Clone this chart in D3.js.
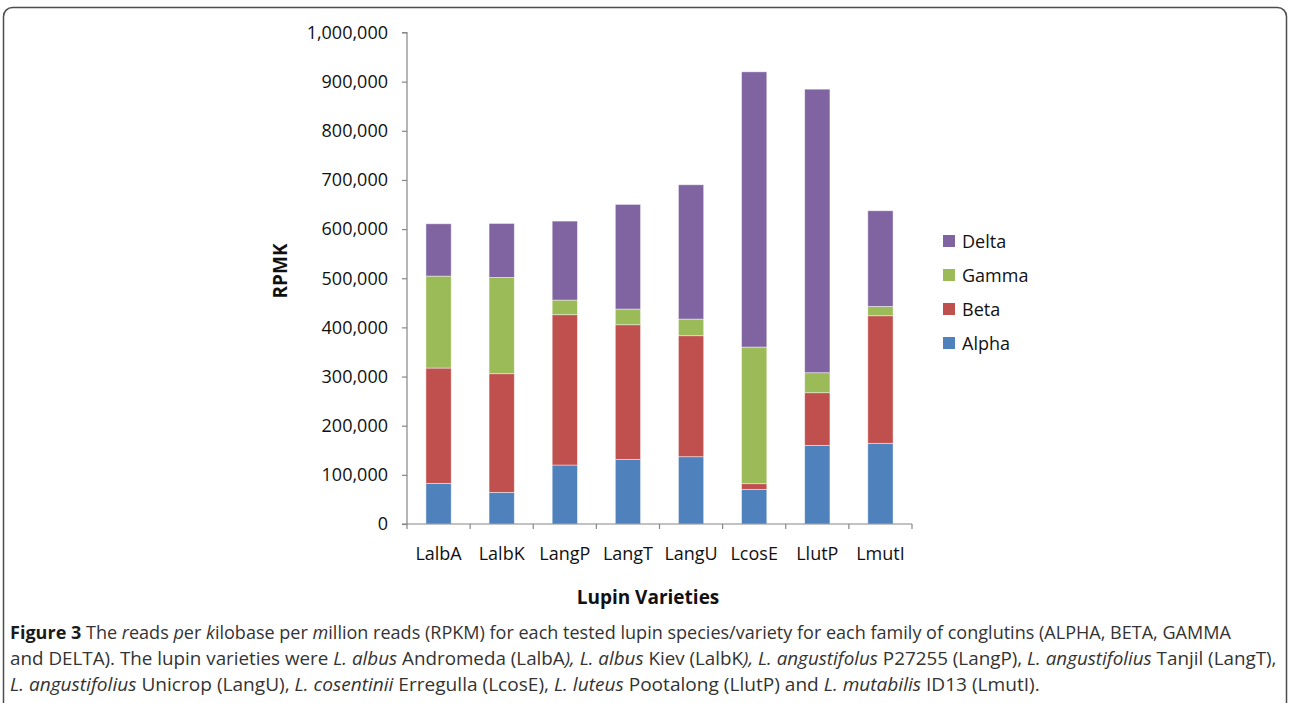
<!DOCTYPE html>
<html>
<head>
<meta charset="utf-8">
<script src="https://cdn.jsdelivr.net/npm/d3@7"></script>
<style>
  html, body { margin: 0; padding: 0; background: #fff; }
  svg { display: block; }
</style>
</head>
<body>
<svg id="chart" width="1289" height="703"></svg>
<script>
const categories = ["LalbA", "LalbK", "LangP", "LangT", "LangU", "LcosE", "LlutP", "LmutI"];
const seriesNames = ["Alpha", "Beta", "Gamma", "Delta"];
const alpha = [82700, 64400, 120000, 131500, 136900, 70500, 160000, 164100];
const beta  = [234600, 241400, 305800, 273900, 246200, 11500, 107100, 259600];
const gamma = [187100, 195900, 29800, 31900, 33800, 278000, 40700, 19000];
const delta = [106400, 109800, 160700, 212900, 273300, 560000, 576900, 194600];
const yTicks = [0, 100000, 200000, 300000, 400000, 500000, 600000, 700000, 800000, 900000, 1000000];
const colors = ["#4F81BD", "#C0504D", "#9BBB59", "#8064A2"];

(function () {
const svg = d3.select("#chart");
const font = "'Open Sans', 'Liberation Sans', sans-serif";

// frame
svg.append("rect").attr("x", 3.5).attr("y", 7.5).attr("width", 1283).attr("height", 720)
  .attr("rx", 9).attr("fill", "none").attr("stroke", "#4d4d4d").attr("stroke-width", 1.5);

const pLeft = 407, pRight = 912, pTop = 32.5, pBottom = 524;
const x = d3.scaleBand().domain(categories).range([pLeft, pRight]).padding(0);
const y = d3.scaleLinear().domain([0, 1000000]).range([pBottom, pTop]);

const rows = categories.map((c, i) => ({cat: c, Alpha: alpha[i], Beta: beta[i], Gamma: gamma[i], Delta: delta[i]}));
const stacked = d3.stack().keys(seriesNames)(rows);

const barW = x.bandwidth() * 0.4;
const g = svg.append("g");
stacked.forEach((layer, li) => {
  g.selectAll(null).data(layer).enter().append("rect")
    .attr("x", d => x(d.data.cat) + (x.bandwidth() - barW) / 2)
    .attr("y", d => y(d[1]))
    .attr("width", barW)
    .attr("height", d => y(d[0]) - y(d[1]))
    .attr("fill", colors[li])
    .attr("stroke", "#ffffff").attr("stroke-opacity", 0.55).attr("stroke-width", 0.8);
});

// y axis
const yAxis = d3.axisLeft(y).tickValues(yTicks).tickSize(5).tickPadding(14)
  .tickFormat(d3.format(","));
const ya = svg.append("g").attr("transform", `translate(${pLeft},0)`).call(yAxis);
ya.select(".domain").attr("stroke", "#868686").attr("stroke-width", 1.2).attr("d", `M-5,${pTop}H0V${pBottom}H-5`);
ya.selectAll(".tick line").attr("stroke", "#868686").attr("stroke-width", 1.2);
ya.selectAll(".tick text").attr("font-family", font).attr("font-size", 18).attr("fill", "#111");

// x axis
const xa = svg.append("g").attr("transform", `translate(0,${pBottom})`);
xa.append("line").attr("x1", pLeft).attr("x2", pRight).attr("y1", 0).attr("y2", 0)
  .attr("stroke", "#868686").attr("stroke-width", 1.2);
const bounds = categories.map(c => x(c)).concat([x(categories[categories.length - 1]) + x.bandwidth()]);
xa.selectAll("line.tk").data(bounds).enter().append("line").attr("class", "tk")
  .attr("x1", d => d).attr("x2", d => d).attr("y1", 0).attr("y2", 5)
  .attr("stroke", "#868686").attr("stroke-width", 1.2);
xa.selectAll("text.cl").data(categories).enter().append("text").attr("class", "cl")
  .attr("x", d => x(d) + x.bandwidth() / 2).attr("y", 36)
  .attr("text-anchor", "middle").attr("font-family", font).attr("font-size", 18).attr("fill", "#111")
  .text(d => d);

// axis titles
svg.append("text").attr("x", 648).attr("y", 604).attr("text-anchor", "middle")
  .attr("font-family", font).attr("font-size", 19).attr("font-weight", "bold").attr("fill", "#111")
  .text("Lupin Varieties");
svg.append("text").attr("transform", "translate(287,271) rotate(-90)").attr("text-anchor", "middle")
  .attr("font-family", font).attr("font-size", 19).attr("font-weight", "bold").attr("fill", "#111")
  .text("RPMK");

// legend
const legendOrder = [3, 2, 1, 0];
const lg = svg.append("g");
legendOrder.forEach((si, k) => {
  const cy = 241 + k * 34;
  lg.append("rect").attr("x", 943).attr("y", cy - 6).attr("width", 12).attr("height", 12).attr("fill", colors[si]);
  lg.append("text").attr("x", 962).attr("y", cy + 6.5).attr("font-family", font).attr("font-size", 18)
    .attr("fill", "#111").text(seriesNames[si]);
});

// caption
const captionLines = [
  {y: 639, len: 1222, parts: [["Figure 3", "b"], [" The ", ""], ["r", "i"], ["eads ", ""], ["p", "i"], ["er ", ""], ["k", "i"], ["ilobase per ", ""], ["m", "i"], ["illion reads (RPKM) for each tested lupin species/variety for each family of conglutins (ALPHA, BETA, GAMMA", ""]]},
  {y: 665, len: 1267, parts: [["and DELTA). The lupin varieties were ", ""], ["L. albus", "i"], [" Andromeda (LalbA", ""], ["), L. albus", "i"], [" Kiev (LalbK", ""], ["), L. angustifolus", "i"], [" P27255 (LangP), ", ""], ["L. angustifolius", "i"], [" Tanjil (LangT),", ""]]},
  {y: 691, len: 1030, parts: [["L. angustifolius", "i"], [" Unicrop (LangU), ", ""], ["L. cosentinii", "i"], [" Erregulla (LcosE), ", ""], ["L. luteus", "i"], [" Pootalong (LlutP) and ", ""], ["L. mutabilis", "i"], [" ID13 (LmutI).", ""]]}
];
captionLines.forEach(line => {
  const wrap = svg.append("g");
  const t = wrap.append("text").attr("x", 0).attr("y", 0)
    .attr("font-family", font).attr("font-size", 18).attr("fill", "#333");
  line.parts.forEach(([s, st]) => {
    const ts = t.append("tspan").text(s);
    if (st === "b") ts.attr("font-weight", "bold").attr("fill", "#1a1a1a");
    if (st === "i") ts.attr("font-style", "italic");
  });
  const w = t.node().getBBox().width || line.len;
  wrap.attr("transform", `translate(10,${line.y}) scale(${line.len / w},1)`);
});
})();
</script>
</body>
</html>
